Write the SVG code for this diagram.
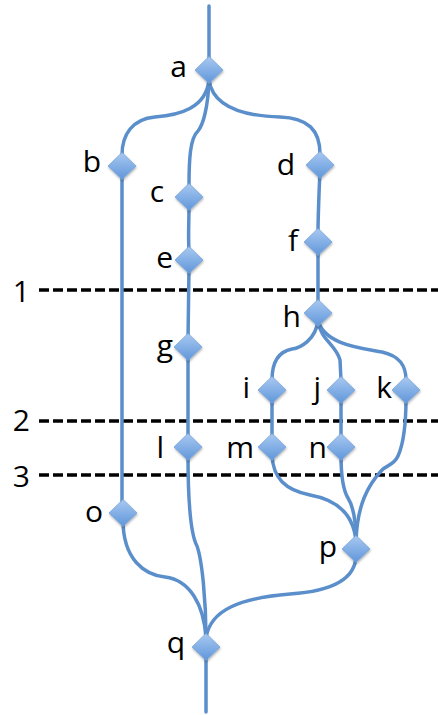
<svg xmlns="http://www.w3.org/2000/svg" width="438" height="715" viewBox="0 0 438 715">
<style>
.c{fill:none;stroke:#5b8fcb;stroke-width:3.5;stroke-linecap:round}
.d{fill:none;stroke:#000;stroke-width:3.5;stroke-dasharray:10 4}
.t{font-family:"Open Sans","Liberation Sans",sans-serif;font-size:30px;fill:#000;text-anchor:end}
</style>
<defs>
<linearGradient id="g" x1="0" y1="0" x2="0" y2="1">
<stop offset="0" stop-color="#a9c9f1"/>
<stop offset="1" stop-color="#5f96da"/>
</linearGradient>
<filter id="sh" x="-30%" y="-30%" width="160%" height="160%">
<feDropShadow dx="0.5" dy="1.5" stdDeviation="1" flood-color="#000" flood-opacity="0.3"/>
</filter>
<path id="dm" d="M0,-13.5 L14,0 L0,13.5 L-14,0 Z" fill="url(#g)" stroke="#79a6dc" stroke-width="0.8" filter="url(#sh)"/>
</defs>
<rect width="438" height="715" fill="#fff"/>
<g id="levels">
<line class="d" x1="39" y1="290" x2="438" y2="290"/>
<line class="d" x1="39" y1="421" x2="438" y2="421"/>
<line class="d" x1="39" y1="475" x2="438" y2="475"/>
<text class="t" x="30" y="302">1</text>
<text class="t" x="30" y="431">2</text>
<text class="t" x="30" y="487">3</text>
</g>
<g id="connectors">
<path class="c" d="M209,6 L209,60"/>
<path class="c" d="M209,80 C206,108 180,115 155,117 C132,119 122,135 122,155"/>
<path class="c" d="M209,80 C208,108 203,125 198,131 C190,138 189,160 189,186"/>
<path class="c" d="M209,80 C213,108 245,116 280,117 C308,118 320,130 320,154"/>
<path class="c" d="M122,170 L122,505"/>
<path class="c" d="M189,205 C189,225 188,235 189,250"/>
<path class="c" d="M189,268 L188,340"/>
<path class="c" d="M188,355 L188,440"/>
<path class="c" d="M188,455 C188,500 191,535 197,546 C202,560 206,600 206,638"/>
<path class="c" d="M123,520 C123,560 145,575 165,577 C190,580 204,605 206,638"/>
<path class="c" d="M356,555 C356,585 320,592 290,594 C240,598 210,610 206,638"/>
<path class="c" d="M206,655 L206,712"/>
<path class="c" d="M320,170 C319,195 318,215 318,234"/>
<path class="c" d="M318,250 L318,305"/>
<path class="c" d="M318,320 C316,340 300,348 292,349 C276,352 272,365 272,380"/>
<path class="c" d="M318,320 C320,340 336,344 340,360 L341,380"/>
<path class="c" d="M318,320 C324,345 362,348 382,352 C400,356 406,366 406,380"/>
<path class="c" d="M272,398 L272,440"/>
<path class="c" d="M341,398 L341,440"/>
<path class="c" d="M406,398 C406,425 403,445 398,456 C394,465 387,465 382,470 C368,485 357,505 356,542"/>
<path class="c" d="M272,455 C273,478 285,490 310,495 C338,500 354,515 356,542"/>
<path class="c" d="M341,455 C341,475 343,490 348,498 C353,506 356,520 356,542"/>
</g>
<g id="a"><use href="#dm" x="209" y="70"/><text class="t" x="187" y="77">a</text></g>
<g id="b"><use href="#dm" x="122" y="166"/><text class="t" x="101" y="172">b</text></g>
<g id="c"><use href="#dm" x="189" y="197"/><text class="t" x="164" y="202">c</text></g>
<g id="d"><use href="#dm" x="320" y="165"/><text class="t" x="295" y="175">d</text></g>
<g id="e"><use href="#dm" x="189" y="260"/><text class="t" x="173" y="268">e</text></g>
<g id="f"><use href="#dm" x="318" y="242"/><text class="t" x="298" y="251">f</text></g>
<g id="g"><use href="#dm" x="188" y="347"/><text class="t" x="173" y="356">g</text></g>
<g id="h"><use href="#dm" x="318" y="313"/><text class="t" x="301" y="327">h</text></g>
<g id="i"><use href="#dm" x="272" y="390"/><text class="t" x="250" y="398">i</text></g>
<g id="j"><use href="#dm" x="341" y="390"/><text class="t" x="321" y="398">j</text></g>
<g id="k"><use href="#dm" x="406" y="390"/><text class="t" x="392" y="398">k</text></g>
<g id="l"><use href="#dm" x="188" y="447"/><text class="t" x="164" y="458">l</text></g>
<g id="m"><use href="#dm" x="272" y="447"/><text class="t" x="254" y="458">m</text></g>
<g id="n"><use href="#dm" x="341" y="447"/><text class="t" x="327" y="458">n</text></g>
<g id="o"><use href="#dm" x="123" y="513"/><text class="t" x="103" y="522">o</text></g>
<g id="p"><use href="#dm" x="356" y="549"/><text class="t" x="337" y="557">p</text></g>
<g id="q"><use href="#dm" x="206" y="647"/><text class="t" x="185" y="653">q</text></g>
</svg>
